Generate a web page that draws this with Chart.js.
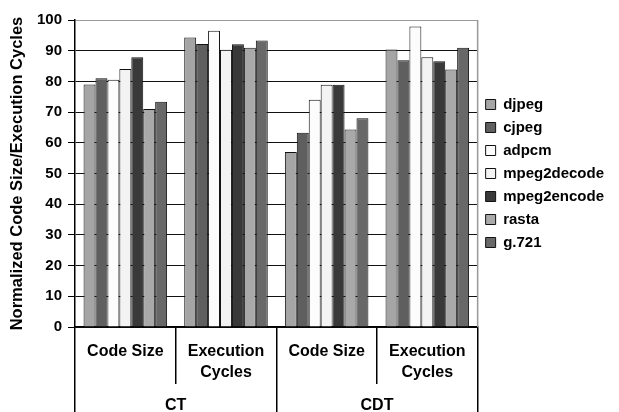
<!DOCTYPE html>
<html>
<head>
<meta charset="utf-8">
<script src="https://cdn.jsdelivr.net/npm/chart.js@4.4.0/dist/chart.umd.min.js"></script>
<style>
  body { margin: 0; background: #fff; }
</style>
</head>
<body>
<canvas id="chart" width="619" height="412"></canvas>
<script>
// categories (inner level) and groups (outer level)
const categories = ['Code Size', ['Execution', 'Cycles'], 'Code Size', ['Execution', 'Cycles']];
const groups = ['CT', 'CDT'];

// values, one per category
const djpeg       = [79.0, 94.3, 57.0, 90.4];
const cjpeg       = [81.0, 92.2, 63.3, 86.9];
const adpcm       = [80.5, 96.5, 74.0, 97.9];
const mpeg2decode = [84.0, 90.3, 78.9, 87.9];
const mpeg2encode = [87.9, 92.1, 78.9, 86.6];
const rasta       = [71.0, 91.0, 64.3, 83.9];
const g721        = [73.4, 93.3, 68.0, 91.0];

const seriesNames = ['djpeg', 'cjpeg', 'adpcm', 'mpeg2decode', 'mpeg2encode', 'rasta', 'g.721'];
const seriesData = [djpeg, cjpeg, adpcm, mpeg2decode, mpeg2encode, rasta, g721];
const seriesColors = ['#a5a5a5', '#5f5f5f', '#fcfcfc', '#f3f3f3', '#393939', '#a9a9a9', '#686868'];

Chart.defaults.font.family = "'Liberation Sans', Arial, sans-serif";
Chart.defaults.font.weight = 'bold';
Chart.defaults.color = '#000';

const datasets = seriesNames.map((name, i) => ({
    label: name,
    data: seriesData[i],
    backgroundColor: seriesColors[i],
    borderColor: '#111',
    borderWidth: 1,
    categoryPercentage: 0.83,
    barPercentage: 1.0
}));

// thin grey frame line on the right side of the plot
const rightBorder = {
    id: 'rightBorder',
    afterDraw(chart) {
        const a = chart.chartArea;
        const ctx = chart.ctx;
        ctx.save();
        ctx.strokeStyle = '#999';
        ctx.lineWidth = 1.5;
        ctx.beginPath();
        ctx.moveTo(a.right, a.top);
        ctx.lineTo(a.right, a.bottom);
        ctx.stroke();
        ctx.restore();
    }
};

const labelFont = { size: 16, weight: 'bold', lineHeight: 1.3 };

new Chart(document.getElementById('chart'), {
    type: 'bar',
    data: { labels: categories, datasets: datasets },
    plugins: [rightBorder],
    options: {
        responsive: false,
        animation: false,
        layout: { padding: { top: 20, right: 5, bottom: 0, left: 0 } },
        plugins: {
            tooltip: { enabled: false },
            legend: {
                position: 'right',
                align: 'center',
                fullSize: false,
                labels: {
                    boxWidth: 10,
                    boxHeight: 10,
                    padding: 8,
                    color: '#000',
                    font: { size: 15, weight: 'bold' }
                }
            }
        },
        scales: {
            x: {
                offset: true,
                weight: 0,
                grid: { offset: true, drawOnChartArea: false, tickLength: 57, color: '#000', lineWidth: 1.5 },
                border: { color: '#000', width: 1.5 },
                ticks: { padding: -42.4, font: labelFont, color: '#000', maxRotation: 0, autoSkip: false },
                afterFit: s => { s.height = 57; }
            },
            x2: {
                type: 'category',
                labels: groups,
                position: 'bottom',
                offset: true,
                weight: 1,
                grid: { offset: true, drawOnChartArea: false, tickLength: 28, color: '#000', lineWidth: 1.5 },
                border: { display: false },
                ticks: { padding: -16.4, font: labelFont, color: '#000', maxRotation: 0, autoSkip: false },
                afterFit: s => { s.height = 28; }
            },
            y: {
                min: 0,
                max: 100,
                ticks: { stepSize: 10, padding: 6, font: { size: 15, weight: 'bold' }, color: '#000' },
                grid: {
                    color: ctx => (ctx.tick && ctx.tick.value === 100) ? '#999' : '#111',
                    lineWidth: 1,
                    tickLength: 7,
                    tickColor: '#000'
                },
                border: { color: '#000', width: 1.5 },
                title: {
                    display: true,
                    text: 'Normalized Code Size/Execution Cycles',
                    font: { size: 16.5, weight: 'bold' },
                    color: '#000',
                    padding: { top: 8, bottom: 0 }
                },
                afterFit: s => { s.width = 75; }
            }
        }
    }
});
</script>
</body>
</html>
